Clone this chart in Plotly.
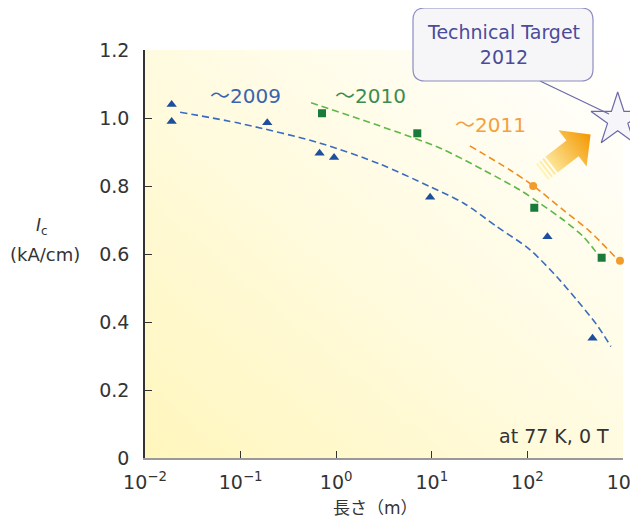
import base64
import plotly.graph_objects as go

# ---------------- data ----------------
x_2009 = [0.019, 0.019, 0.19, 0.67, 0.95, 9.6, 162, 480]
y_2009 = [1.04, 0.99, 0.986, 0.896, 0.884, 0.767, 0.651, 0.352]

x_2010 = [0.71, 7.05, 118, 598]
y_2010 = [1.014, 0.955, 0.736, 0.589]

x_2011 = [115, 930]
y_2011 = [0.80, 0.58]

fit_x_2009 = [0.0233, 0.099, 0.68, 2.9, 9.58, 21.4, 47.7, 106, 203, 328, 531, 748]
fit_y_2009 = [1.017, 0.984, 0.926, 0.864, 0.798, 0.750, 0.681, 0.613, 0.533, 0.465, 0.392, 0.328]

fit_x_2010 = [0.546, 2.9, 12.3, 34.7, 83.8, 135, 238, 385, 518]
fit_y_2010 = [1.045, 0.976, 0.911, 0.847, 0.788, 0.749, 0.700, 0.651, 0.607]

fit_x_2011 = [25, 65.8, 115, 238, 452, 824]
fit_y_2011 = [0.918, 0.847, 0.801, 0.729, 0.666, 0.592]

target_x = [880]
target_y = [0.994]

y_ticks = [0, 0.2, 0.4, 0.6, 0.8, 1.0, 1.2]
y_tick_text = ["0", "0.2", "0.4", "0.6", "0.8", "1.0", "1.2"]
x_ticks = [0.01, 0.1, 1, 10, 100, 1000]
x_tick_text = ["10<sup>−2</sup>", "10<sup>−1</sup>", "10<sup>0</sup>",
               "10<sup>1</sup>", "10<sup>2</sup>", "10<sup>3</sup>"]

FONT = "DejaVu Sans, Noto Sans CJK JP"
OFF = 8  # default page body margin
W, H = 638 - OFF, 523 - OFF
L, R, T, B = 145 - OFF, 15, 50 - OFF, 65
PW, PH = W - L - R, H - T - B


def px(xp):  # reference pixel -> paper
    return (xp - OFF - L) / PW


def py(yp):
    return (H - B - (yp - OFF)) / PH


fig = go.Figure()

# dashed fit curves
for fx, fy, col in [(fit_x_2009, fit_y_2009, "#3a6cc0"),
                    (fit_x_2010, fit_y_2010, "#5cb847"),
                    (fit_x_2011, fit_y_2011, "#f08c1e")]:
    fig.add_trace(go.Scatter(x=fx, y=fy, mode="lines", hoverinfo="skip",
                             line=dict(color=col, width=1.6, dash="7px,4px",
                                       shape="spline", smoothing=0.8)))

# data points
fig.add_trace(go.Scatter(x=x_2009, y=y_2009, mode="markers",
                         marker=dict(symbol="triangle-up", size=9, color="#1d4f9e")))
fig.add_trace(go.Scatter(x=x_2010, y=y_2010, mode="markers",
                         marker=dict(symbol="square", size=8, color="#1a7a3a")))
fig.add_trace(go.Scatter(x=x_2011, y=y_2011, mode="markers", cliponaxis=False,
                         marker=dict(symbol="circle", size=8, color="#f39c2e")))

# target star
fig.add_trace(go.Scatter(x=target_x, y=target_y, mode="markers", cliponaxis=False,
                         marker=dict(symbol="star", size=40, color="#f5f5fa",
                                     line=dict(color="#6a6aa8", width=1.2))))

# background gradient (svg)
bg_svg = f'''<svg xmlns="http://www.w3.org/2000/svg" width="{PW}" height="{PH}" viewBox="0 0 {PW} {PH}" preserveAspectRatio="none">
<defs><linearGradient id="g" x1="0" y1="1" x2="1" y2="0">
<stop offset="0" stop-color="#fff6bd"/><stop offset="0.5" stop-color="#fffbe0"/><stop offset="1" stop-color="#ffffff"/>
</linearGradient></defs><rect width="{PW}" height="{PH}" fill="url(#g)"/></svg>'''

arrow_svg = '''<svg xmlns="http://www.w3.org/2000/svg" width="80" height="70" viewBox="0 0 80 70">
<defs><linearGradient id="a" gradientUnits="userSpaceOnUse" x1="0" y1="0" x2="61" y2="0">
<stop offset="0" stop-color="#fff6b8"/><stop offset="1" stop-color="#f39800"/></linearGradient></defs>
<g transform="translate(15,52) rotate(-37.7)" fill="url(#a)">
<rect x="0" y="-10" width="2" height="20"/><rect x="4" y="-10" width="2" height="20"/><rect x="8" y="-10" width="2" height="20"/>
<polygon points="12,-10 38.6,-10 38.6,-23 61.4,0 38.6,23 38.6,10 12,10"/>
</g></svg>'''


def uri(s):
    return "data:image/svg+xml;base64," + base64.b64encode(s.encode()).decode()


images = [
    dict(source=uri(bg_svg), xref="paper", yref="paper", x=0, y=1, sizex=1, sizey=1,
         xanchor="left", yanchor="top", sizing="stretch", layer="below"),
    dict(source=uri(arrow_svg), xref="paper", yref="paper", x=px(527), y=py(120),
         sizex=80 / PW, sizey=70 / PH, xanchor="left", yanchor="top", sizing="stretch", layer="above"),
]

# rounded box for "Technical Target"
x0, x1, yt, yb = px(413), px(593), py(8), py(81)
rx, ry = 12 / PW, 12 / PH
box_path = (f"M {x0+rx},{yb} L {x1-rx},{yb} Q {x1},{yb} {x1},{yb+ry} L {x1},{yt-ry} "
            f"Q {x1},{yt} {x1-rx},{yt} L {x0+rx},{yt} Q {x0},{yt} {x0},{yt-ry} "
            f"L {x0},{yb+ry} Q {x0},{yb} {x0+rx},{yb} Z")
shapes = [
    dict(type="line", xref="paper", yref="paper", x0=px(540), y0=py(81), x1=px(609), y1=py(114),
         line=dict(color="#6a6aa8", width=1.2)),
    dict(type="path", xref="paper", yref="paper", path=box_path, fillcolor="#f6f6f9",
         line=dict(color="#8c8cc0", width=1.2)),
]

annotations = [
    dict(text="～2009", x=px(245), y=py(96), font=dict(size=20, color="#3a64b0")),
    dict(text="～2010", x=px(370), y=py(96), font=dict(size=20, color="#3d8c4f")),
    dict(text="～2011", x=px(490), y=py(125), font=dict(size=20, color="#f5a040")),
    dict(text="at 77 K, 0 T", x=px(611), y=py(436), xanchor="right", font=dict(size=19, color="#333333")),
    dict(text="Technical Target<br>2012", x=px(503), y=py(44), font=dict(size=19, color="#4b4b9b")),
    dict(text="<i>I</i><sub>c</sub>", x=px(42), y=py(226), font=dict(size=17, color="#333333")),
    dict(text="(kA/cm)", x=px(45), y=py(254), font=dict(size=18, color="#333333")),
    dict(text="長さ（m）", x=px(375), y=py(508), font=dict(size=17, color="#333333")),
]
for a in annotations:
    a.update(xref="paper", yref="paper", showarrow=False)
    a.setdefault("xanchor", "center")
    a.setdefault("yanchor", "middle")

fig.update_layout(
    width=W, height=H, margin=dict(l=L, r=R, t=T, b=B, autoexpand=False),
    paper_bgcolor="white", plot_bgcolor="white", showlegend=False,
    font=dict(family=FONT, color="#333333"),
    images=images, shapes=shapes, annotations=annotations,
    xaxis=dict(type="log", range=[-2, 3], tickvals=x_ticks, ticktext=x_tick_text,
               ticks="inside", ticklen=7, tickcolor="#333333", tickwidth=1.2, automargin=False,
               ticklabeloverflow="allow",
               showline=True, linecolor="#999999", linewidth=2, showgrid=False, zeroline=False,
               tickfont=dict(size=19, color="#333333"), ticklabelstandoff=6),
    yaxis=dict(range=[0, 1.2], tickvals=y_ticks, ticktext=y_tick_text, automargin=False,
               ticks="inside", ticklen=7, tickcolor="#333333", tickwidth=1.2,
               showline=True, linecolor="#333333", linewidth=1.5, showgrid=False, zeroline=False,
               tickfont=dict(size=19, color="#333333"), ticklabelstandoff=10),
)

fig.write_html("out.html")
